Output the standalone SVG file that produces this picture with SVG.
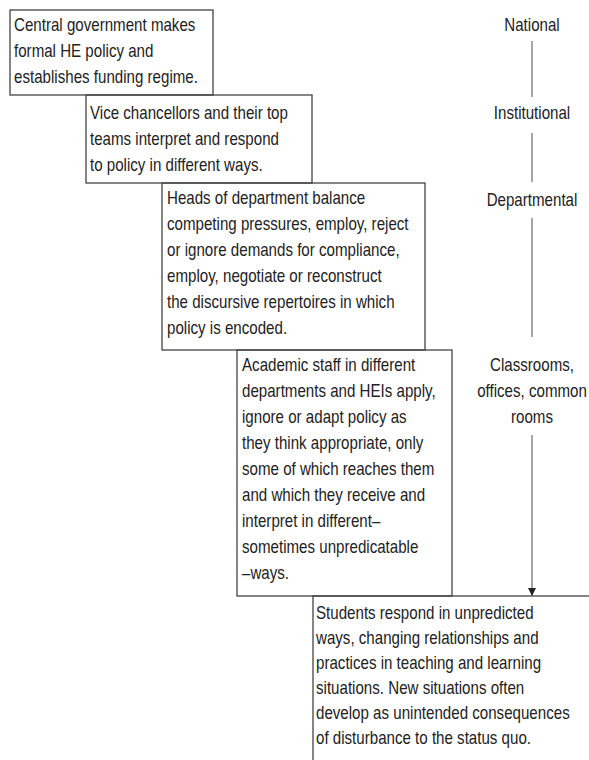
<svg xmlns="http://www.w3.org/2000/svg" width="589" height="760" viewBox="0 0 589 760">
<style>
.box{fill:none;stroke:#444;stroke-width:1.3}
.t{font-family:"Liberation Sans",Arial,sans-serif;font-size:18px;fill:#222}
.lvl{font-family:"Liberation Sans",Arial,sans-serif;font-size:18px;fill:#222;text-anchor:middle}
.conn{stroke:#777;stroke-width:1.3;fill:none}
</style>
<defs>
<marker id="arr" viewBox="0 0 10 10" refX="10" refY="5" markerWidth="8" markerHeight="8" markerUnits="userSpaceOnUse" orient="auto">
<path d="M0,0 L10,5 L0,10 z" fill="#222"/>
</marker>
</defs>
<rect x="0" y="0" width="589" height="760" fill="#fff"/>
<g id="connectors">
<line class="conn" x1="532" y1="41" x2="532" y2="97"/>
<line class="conn" x1="532" y1="133" x2="532" y2="182"/>
<line class="conn" x1="532" y1="218" x2="532" y2="337"/>
<line class="conn" x1="532" y1="435" x2="532" y2="596" stroke="#333" marker-end="url(#arr)"/>
</g>
<g id="box5">
<rect class="box" x="313" y="596" width="300" height="200"/>
<g transform="translate(316,0) scale(0.84,1)"><text class="t" x="0" y="619">Students respond in unpredicted<tspan x="0" dy="25">ways, changing relationships and</tspan><tspan x="0" dy="25">practices in teaching and learning</tspan><tspan x="0" dy="25">situations. New situations often</tspan><tspan x="0" dy="25">develop as unintended consequences</tspan><tspan x="0" dy="25">of disturbance to the status quo.</tspan></text></g>
</g>
<g id="box4">
<rect class="box" x="237" y="350" width="215" height="246"/>
<g transform="translate(242,0) scale(0.84,1)"><text class="t" x="0" y="371">Academic staff in different<tspan x="0" dy="26">departments and HEIs apply,</tspan><tspan x="0" dy="26">ignore or adapt policy as</tspan><tspan x="0" dy="26">they think appropriate, only</tspan><tspan x="0" dy="26">some of which reaches them</tspan><tspan x="0" dy="26">and which they receive and</tspan><tspan x="0" dy="26">interpret in different–</tspan><tspan x="0" dy="26">sometimes unpredicatable</tspan><tspan x="0" dy="26">–ways.</tspan></text></g>
</g>
<g id="box3">
<rect class="box" x="162" y="183" width="263" height="167"/>
<g transform="translate(167,0) scale(0.84,1)"><text class="t" x="0" y="204">Heads of department balance<tspan x="0" dy="26">competing pressures, employ, reject</tspan><tspan x="0" dy="26">or ignore demands for compliance,</tspan><tspan x="0" dy="26">employ, negotiate or reconstruct</tspan><tspan x="0" dy="26">the discursive repertoires in which</tspan><tspan x="0" dy="26">policy is encoded.</tspan></text></g>
</g>
<g id="box2">
<rect class="box" x="86" y="95" width="226" height="88"/>
<g transform="translate(90,0) scale(0.84,1)"><text class="t" x="0" y="119">Vice chancellors and their top<tspan x="0" dy="26">teams interpret and respond</tspan><tspan x="0" dy="26">to policy in different ways.</tspan></text></g>
</g>
<g id="box1">
<rect class="box" x="10" y="10" width="203" height="85"/>
<g transform="translate(14,0) scale(0.84,1)"><text class="t" x="0" y="31">Central government makes<tspan x="0" dy="26">formal HE policy and</tspan><tspan x="0" dy="26">establishes funding regime.</tspan></text></g>
</g>
<g id="national"><g transform="translate(532,0) scale(0.84,1)"><text class="lvl" x="0" y="31">National</text></g></g>
<g id="institutional"><g transform="translate(532,0) scale(0.84,1)"><text class="lvl" x="0" y="119">Institutional</text></g></g>
<g id="departmental"><g transform="translate(532,0) scale(0.84,1)"><text class="lvl" x="0" y="206">Departmental</text></g></g>
<g id="classrooms"><g transform="translate(532,0) scale(0.84,1)"><text class="lvl" x="0" y="371">Classrooms,<tspan x="0" dy="26">offices, common</tspan><tspan x="0" dy="26">rooms</tspan></text></g></g>
</svg>
